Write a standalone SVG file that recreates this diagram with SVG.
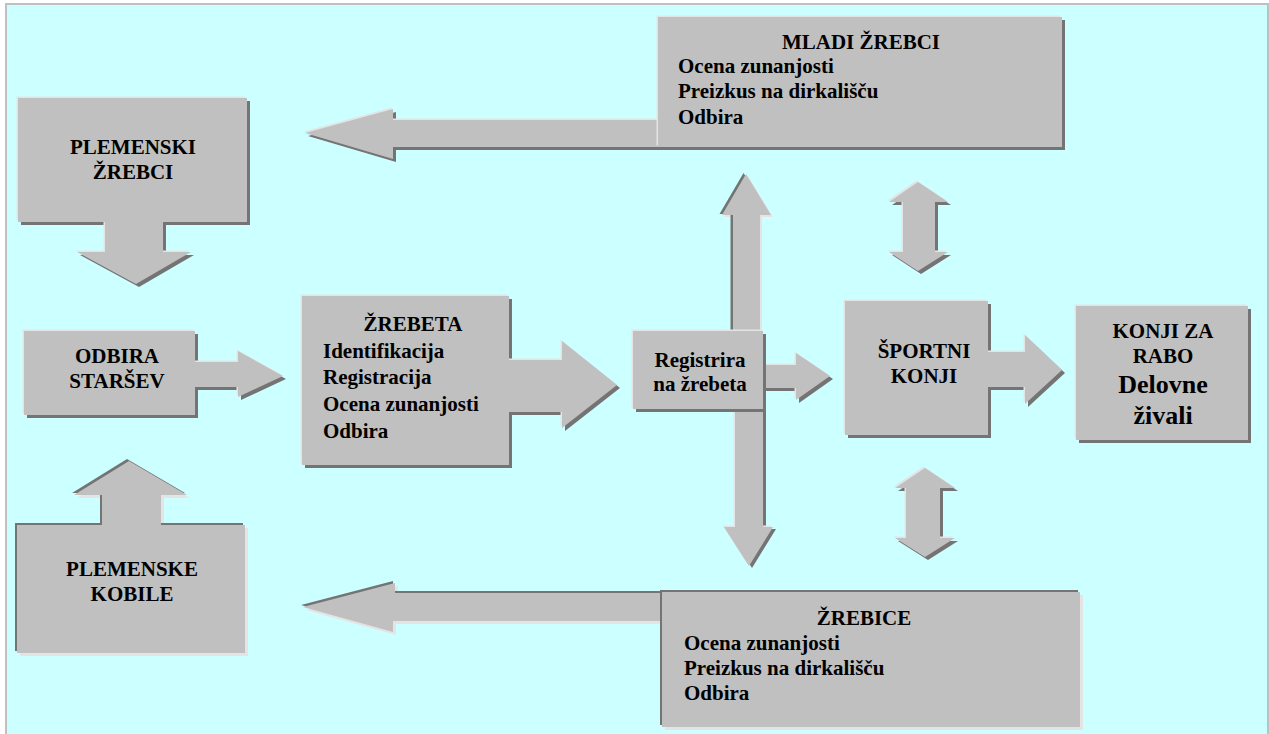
<svg xmlns="http://www.w3.org/2000/svg" xmlns:xlink="http://www.w3.org/1999/xlink" width="1269" height="734" viewBox="0 0 1269 734">
<style>
.bg{fill:#ccffff;stroke:#c0c0c0;stroke-width:2}
.bx{fill:#c0c0c0}
.lt{fill:#e4e4e4}
.dk{fill:#747474}
text{font-family:"Liberation Serif","Times New Roman",serif;font-weight:bold;font-size:21px;fill:#000}
.c{text-anchor:middle}
.big{font-size:26px}
</style>
<defs>
<path id="p1" d="M18,98 H247 V222 H163 V252 H191 L136,284 L77,252 H105 V222 H18 Z"/>
<path id="p2" d="M24,331 H195 V362 H238 V351 L283,376 L238,397 V387 H195 V415 H24 Z"/>
<path id="p3" d="M17,525 H102 V495 H74 L129,461 L187,495 H161 V525 H245 V653 H17 Z"/>
<path id="p4" d="M302,296 H509 V360 H562 V341 L617,385 L562,428 V412 H509 V465 H302 Z"/>
<path id="p5" d="M633,331 H763 V409 H633 Z"/>
<path id="p6" d="M763,365 H796 V353 L830,376 L796,400 V388 H763 Z"/>
<path id="p7" d="M733,335 V215 H722 L746,174 L771,215 H760 V335 Z"/>
<path id="p8" d="M735,405 V527 H724 L749,566 L773,527 H763 V405 Z"/>
<path id="p9" d="M845,301 H988 V352 H1025 V335 L1062,370 L1025,404 V387 H988 V435 H845 Z"/>
<path id="p10" d="M1076,306 H1248 V440 H1076 Z"/>
<path id="p11" d="M658,17 H1062 V147 H658 Z"/>
<path id="p12" d="M662,120 H393 V109 L305,133 L393,159 V147 H662 Z"/>
<path id="p13" d="M662,592 H1080 V727 H662 Z"/>
<path id="p14" d="M666,593 H395 V583 L303,607 L393,632 V621 H666 Z"/>
<path id="p15" d="M903,202 H889 L918,182 L948,202 H935 V252 H948 L918,271 L889,252 H903 Z"/>
<path id="p16" d="M906,488 H895 L925,468 L955,488 H940 V538 H955 L925,557 L895,538 H906 Z"/>
</defs>
<rect class="bg" x="6" y="4" width="1262" height="740"/>

<g id="connectors">
<g id="arrow-mladi-to-plemenski">
<use href="#p12" class="dk" transform="translate(3,3)"/><use href="#p12" class="lt" transform="translate(-1.5,-1.5)"/><use href="#p12" class="bx"/>
</g>
<g id="arrow-zrebice-to-kobile">
<use href="#p14" class="lt" transform="translate(3,3)"/><use href="#p14" class="dk" transform="translate(-2,-2)"/><use href="#p14" class="bx"/>
</g>
<g id="arrow-up">
<use href="#p7" class="lt" transform="translate(2,2)"/><use href="#p7" class="dk" transform="translate(-2.5,-1)"/><use href="#p7" class="bx"/>
</g>
<g id="arrow-down">
<use href="#p8" class="dk" transform="translate(3,2)"/><use href="#p8" class="lt" transform="translate(-1.5,-1.5)"/><use href="#p8" class="bx"/>
</g>
<g id="arrow-registrira-sportni">
<use href="#p6" class="dk" transform="translate(3,3)"/><use href="#p6" class="lt" transform="translate(-1.5,-1.5)"/><use href="#p6" class="bx"/>
</g>
<g id="arrow-double-top">
<use href="#p15" class="dk" transform="translate(3,3)"/><use href="#p15" class="lt" transform="translate(-1.5,-1.5)"/><use href="#p15" class="bx"/>
</g>
<g id="arrow-double-bottom">
<use href="#p16" class="dk" transform="translate(3,3)"/><use href="#p16" class="lt" transform="translate(-1.5,-1.5)"/><use href="#p16" class="bx"/>
</g>
</g>

<g id="plemenski-zrebci">
<use href="#p1" class="dk" transform="translate(3,3)"/><use href="#p1" class="lt" transform="translate(-1.5,-1.5)"/><use href="#p1" class="bx"/>
<text class="c" x="133" y="154">PLEMENSKI</text>
<text class="c" x="133" y="179">ŽREBCI</text>
</g>

<g id="odbira-starsev">
<use href="#p2" class="dk" transform="translate(3,3)"/><use href="#p2" class="lt" transform="translate(-1.5,-1.5)"/><use href="#p2" class="bx"/>
<text class="c" x="117" y="363">ODBIRA</text>
<text class="c" x="117" y="388">STARŠEV</text>
</g>

<g id="plemenske-kobile">
<use href="#p3" class="lt" transform="translate(3,3)"/><use href="#p3" class="dk" transform="translate(-2,-2)"/><use href="#p3" class="bx"/>
<text class="c" x="132" y="576">PLEMENSKE</text>
<text class="c" x="132" y="601">KOBILE</text>
</g>

<g id="zrebeta">
<use href="#p4" class="dk" transform="translate(3,3)"/><use href="#p4" class="lt" transform="translate(-1.5,-1.5)"/><use href="#p4" class="bx"/>
<text class="c" x="413" y="331">ŽREBETA</text>
<text x="323" y="358">Identifikacija</text>
<text x="323" y="384">Registracija</text>
<text x="323" y="411">Ocena zunanjosti</text>
<text x="323" y="438">Odbira</text>
</g>

<g id="registrira">
<use href="#p5" class="dk" transform="translate(3,3)"/><use href="#p5" class="lt" transform="translate(-1.5,-1.5)"/><use href="#p5" class="bx"/>
<text class="c" x="700" y="367">Registrira</text>
<text class="c" x="700" y="391">na žrebeta</text>
</g>

<g id="sportni-konji">
<use href="#p9" class="dk" transform="translate(3,3)"/><use href="#p9" class="lt" transform="translate(-1.5,-1.5)"/><use href="#p9" class="bx"/>
<text class="c" x="924" y="358">ŠPORTNI</text>
<text class="c" x="924" y="383">KONJI</text>
</g>

<g id="konji-za-rabo">
<use href="#p10" class="dk" transform="translate(3,3)"/><use href="#p10" class="lt" transform="translate(-1.5,-1.5)"/><use href="#p10" class="bx"/>
<text class="c" x="1163" y="338">KONJI ZA</text>
<text class="c" x="1163" y="363">RABO</text>
<text class="c big" x="1163" y="393">Delovne</text>
<text class="c big" x="1163" y="424">živali</text>
</g>

<g id="mladi-zrebci">
<use href="#p11" class="dk" transform="translate(3,3)"/><use href="#p11" class="lt" transform="translate(-1.5,-1.5)"/><use href="#p11" class="bx"/>
<text class="c" x="861" y="49">MLADI ŽREBCI</text>
<text x="678" y="73">Ocena zunanjosti</text>
<text x="678" y="98">Preizkus na dirkališču</text>
<text x="678" y="124">Odbira</text>
</g>

<g id="zrebice">
<use href="#p13" class="lt" transform="translate(3,3)"/><use href="#p13" class="dk" transform="translate(-2,-2)"/><use href="#p13" class="bx"/>
<text class="c" x="864" y="625">ŽREBICE</text>
<text x="684" y="650">Ocena zunanjosti</text>
<text x="684" y="675">Preizkus na dirkališču</text>
<text x="684" y="700">Odbira</text>
</g>
</svg>
